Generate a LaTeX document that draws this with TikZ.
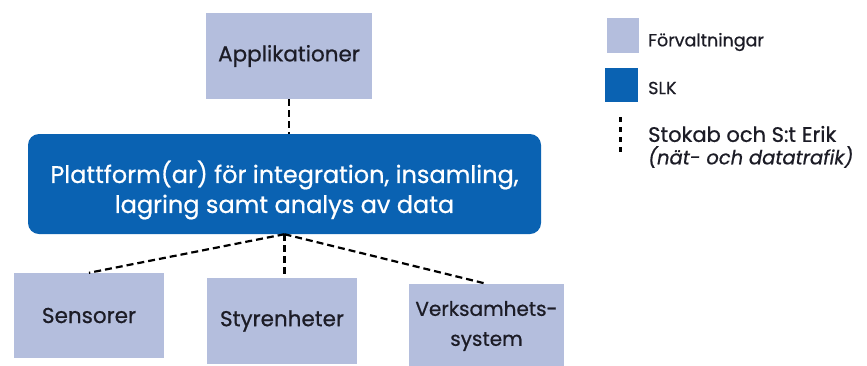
\documentclass[tikz,border=0pt]{standalone}
\usepackage{fontspec}
\setmainfont{Poppins}[FakeBold=0.7]
\definecolor{adminfill}{RGB}{180,190,221}
\definecolor{slkblue}{RGB}{10,98,178}
\definecolor{inkdark}{RGB}{28,28,38}
\begin{document}
\begin{tikzpicture}[x=1pt,y=-1pt,
  adminbox/.style={fill=adminfill, inner sep=0pt, text=inkdark, align=center,
    font=\fontsize{21.5}{30}\selectfont},
  slkbox/.style={fill=slkblue, rounded corners=11pt, inner sep=0pt},
  slktext/.style={inner sep=0pt, text=white, align=center,
    font=\fontsize{24}{30}\selectfont},
  link/.style={draw=black, line width=2.2pt, dash pattern=on 7pt off 4pt},
  legendlink/.style={draw=black, line width=2.2pt, dash pattern=on 5pt off 5pt},
  legendtext/.style={anchor=west, inner sep=0pt, text=inkdark,
    font=\fontsize{17.5}{21}\selectfont}]
\useasboundingbox (0,0) rectangle (867,365);

% central platform
\node[slkbox, minimum width=513pt, minimum height=100pt] (slk) at (284.5,184) {};
\node[slktext] (slklabel) at ([yshift=-6pt]slk.center)
  {Plattform(ar) för integration, insamling,\\lagring samt analys av data};

% top and bottom boxes
\node[adminbox, minimum width=166pt, minimum height=86pt] (app) at (289,56) {Applikationer};
\node[adminbox, minimum width=150pt, minimum height=85pt] (sens) at (89,315.5) {Sensorer};
\node[adminbox, minimum width=150pt, minimum height=86pt] (styr) at (282,321) {Styrenheter};
\node[adminbox, minimum width=155pt, minimum height=84pt,
  font=\fontsize{20}{30}\selectfont] (verk) at (486.5,326) {Verksamhets-\\system};

% dashed links
\draw[link] (app.south) -- (app.south |- slk.north);
\coordinate (hub) at (slk.south);
\draw[link] (hub) -- (sens.north);
\draw[link] (hub) -- (hub |- styr.north);
\draw[link] (hub) -- (verk.north);

% legend
\node[fill=adminfill, minimum width=32pt, minimum height=35pt, inner sep=0pt] (lega) at (622.5,35.5) {};
\node[fill=slkblue, minimum width=33pt, minimum height=34pt, inner sep=0pt] (legb) at (621.5,85) {};
\coordinate (legc1) at (620.5,117);
\coordinate (legc2) at (620.5,153);
\draw[legendlink] (legc1) -- (legc2);
\node[legendtext] (ta) at (648,42) {Förvaltningar};
\node[legendtext] (tb) at (648,88) {SLK};
\node[legendtext, font=\fontsize{21}{24}\selectfont] (tc) at (648,134) {Stokab och S:t Erik};
\node[legendtext, font=\fontsize{19.5}{24}\selectfont\itshape] (td) at (648,157) {(nät- och datatrafik)};
\end{tikzpicture}
\end{document}
